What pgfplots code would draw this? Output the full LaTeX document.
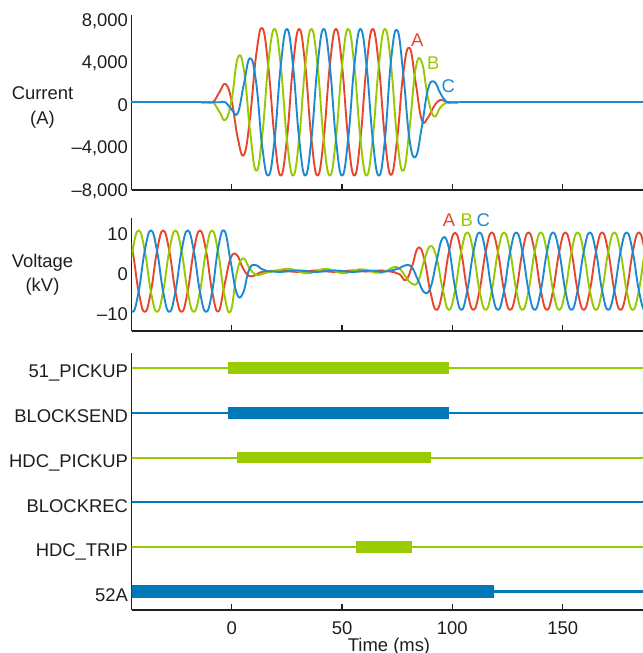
\documentclass[border=0pt]{standalone}
\usepackage{fontspec}
\setmainfont{Liberation Sans}
\usepackage{pgfplots}
\usepackage{pgfplotstable}
\pgfplotsset{compat=1.18}
\definecolor{cA}{RGB}{232,70,44}
\definecolor{cB}{RGB}{150,202,0}
\definecolor{cC}{RGB}{28,138,208}
\definecolor{dG}{RGB}{153,204,0}
\definecolor{dB}{RGB}{0,120,186}
\definecolor{ax}{RGB}{30,30,30}
\newcommand\lf{\fontsize{18.5}{22}\selectfont}

\pgfplotstableread{
t A B C
-13.88 0 0 0
-11.10 0 0 0
-8.32 50 -50 0
-5.54 950 -900 0
-2.77 1720 -1650 0
0.01 100 300 -700
2.79 -3400 4200 -1000
5.57 -4950 3000 1780
8.34 -1400 -2750 4150
11.12 4500 -6450 1800
13.90 6980 -3000 -4300
16.68 3200 3800 -6900
19.46 -3450 6900 -3450
22.23 -6900 3450 3450
25.01 -3450 -3450 6900
27.79 3450 -6900 3450
30.57 6900 -3450 -3450
33.34 3450 3450 -6900
36.12 -3450 6900 -3450
38.90 -6900 3450 3450
41.68 -3450 -3450 6900
44.46 3450 -6900 3450
47.23 6900 -3450 -3450
50.01 3450 3450 -6900
52.79 -3450 6900 -3450
55.57 -6900 3450 3450
58.34 -3450 -3450 6900
61.12 3450 -6900 3450
63.90 6900 -3450 -3450
66.68 3450 3450 -6900
69.46 -3450 6900 -3450
72.23 -6840 3460 4000
75.01 -3400 -3500 6800
77.79 2800 -6430 2600
80.57 5130 -2500 -3480
83.34 1900 3150 -5130
86.12 -1650 3800 -2380
88.90 -1450 450 1180
91.68 -375 -1340 1950
94.46 215 -500 900
97.23 50 -50 50
100.01 0 0 0
102.79 0 0 0
}\curtab

\pgfplotstableread{
t A B C
-47.73 10.2 -5.1 -5.1
-44.96 5.1 5.1 -10.2
-42.18 -5.1 10.2 -5.1
-39.40 -10.2 5.1 5.1
-36.62 -5.1 -5.1 10.2
-33.84 5.1 -10.2 5.1
-31.07 10.2 -5.1 -5.1
-28.29 5.1 5.1 -10.2
-25.51 -5.1 10.2 -5.1
-22.73 -10.2 5.1 5.1
-19.96 -5.1 -5.1 10.2
-17.18 5.1 -10.2 5.1
-14.40 10.2 -5.1 -5.1
-11.62 5.1 5.1 -10.2
-8.84 -5.1 10.2 -5.1
-6.07 -10.1 4.5 6.0
-3.29 -3.5 -6.0 10.1
-0.51 3.2 -10.1 2.5
2.27 4.1 -0.5 -5.5
5.04 0.8 3.2 -5.6
7.82 -1.2 1.0 0.3
10.60 -1.0 -0.8 1.6
13.38 -0.2 -0.8 0.6
16.16 0 -0.3 0
18.93 0.1 0.0 -0.1
21.71 0.2 0.3 -0.2
24.49 0.1 0.6 -0.1
27.27 -0.1 0.5 0.1
30.04 -0.2 0 0.2
32.82 -0.1 -0.5 0.1
35.60 0.1 -0.5 -0.1
38.38 0.2 0 -0.2
41.16 0.1 0.5 -0.1
43.93 -0.1 0.5 0.1
46.71 -0.2 0 0.2
49.49 -0.1 -0.5 0.1
52.27 0.1 -0.4 -0.1
55.04 0.2 0.1 -0.2
57.82 0.1 0.5 -0.1
60.60 -0.1 0.4 0.1
65.09 0.1 -0.4 0.1
67.87 0.2 -0.4 -0.2
70.64 0 0.2 0
73.42 -0.2 1.0 0.3
76.20 -0.8 0.6 0.8
78.98 -2.2 -1.5 1.5
81.76 1.3 -3.2 0.9
84.53 5.9 -2.5 -2.35
87.31 3.0 2.8 -5.3
90.09 -5.3 6.3 -4.1
92.87 -9.7 3.3 2.6
95.64 -4.8 -4.6 8.3
98.42 4.8 -9.7 5.8
101.20 9.6 -4.85 -4.0
103.98 4.85 4.85 -9.7
106.76 -4.85 9.7 -4.85
109.53 -9.7 4.85 4.85
112.31 -4.85 -4.85 9.7
115.09 4.85 -9.7 4.85
117.87 9.7 -4.85 -4.85
120.64 4.85 4.85 -9.7
123.42 -4.85 9.7 -4.85
126.20 -9.7 4.85 4.85
128.98 -4.85 -4.85 9.7
131.76 4.85 -9.7 4.85
134.53 9.7 -4.85 -4.85
137.31 4.85 4.85 -9.7
140.09 -4.85 9.7 -4.85
142.87 -9.7 4.85 4.85
145.64 -4.85 -4.85 9.7
148.42 4.85 -9.7 4.85
151.20 9.7 -4.85 -4.85
153.98 4.85 4.85 -9.7
156.76 -4.85 9.7 -4.85
159.53 -9.7 4.85 4.85
162.31 -4.85 -4.85 9.7
165.09 4.85 -9.7 4.85
167.87 9.7 -4.85 -4.85
170.64 4.85 4.85 -9.7
173.42 -4.85 9.7 -4.85
176.20 -9.7 4.85 4.85
178.98 -4.85 -4.85 9.7
181.76 4.85 -9.7 4.85
184.53 9.7 -4.85 -4.85
187.31 4.85 4.85 -9.7
190.09 -4.85 9.7 -4.85
}\voltab

\pgfplotsset{
  panel/.style={
    scale only axis, width=511.5bp, xmin=-45.41, xmax=186.4,
    clip mode=individual,
    axis x line*=bottom, axis y line*=left,
    axis line style={line width=1.4bp, ax},
    tick align=inside, major tick length=6bp,
    every tick/.style={line width=1.4bp, ax},
    ytick style={draw=none},
    xtick={0,50,100,150},
    tick label style={font=\lf, text=ax},
    /pgf/number format/assume math mode=true,
  },
  wave/.style={line width=1.9bp, smooth, tension=0.75, line join=round},
}

\begin{document}
\begin{tikzpicture}
\path[use as bounding box] (0bp,0bp) rectangle (643bp,653bp);

% ---------- Current ----------
\begin{axis}[panel, at={(131.5bp,463bp)}, anchor=south west, height=175bp,
  ymin=-8254, ymax=8217,
  ytick={-8000,-4000,0,4000,8000},
  yticklabels={{–8,000},{–4,000},{0},{4,000},{8,000}},
  yticklabel style={anchor=base east, yshift=-8.9bp},
  xticklabels={,,,}]
\addplot[wave, cA] table[x=t,y=A] {\curtab};
\addplot[cA, line width=1.9bp] coordinates {(-47,0) (-13.88,0)};
\addplot[cA, line width=1.9bp] coordinates {(102.79,0) (188,0)};
\addplot[wave, cB] table[x=t,y=B] {\curtab};
\addplot[cB, line width=1.9bp] coordinates {(-47,0) (-13.88,0)};
\addplot[cB, line width=1.9bp] coordinates {(102.79,0) (188,0)};
\addplot[wave, cC] table[x=t,y=C] {\curtab};
\addplot[cC, line width=1.9bp] coordinates {(-47,0) (-13.88,0)};
\addplot[cC, line width=1.9bp] coordinates {(102.79,0) (188,0)};
\node[text=cA, font=\lf] at (axis cs:84.1,5864) {A};
\node[text=cB, font=\lf] at (axis cs:91.4,3727) {B};
\node[text=cC, font=\lf] at (axis cs:98.2,1562) {C};
\end{axis}

% ---------- Voltage ----------
\begin{axis}[panel, at={(131.5bp,322bp)}, anchor=south west, height=113bp,
  ymin=-14.95, ymax=13.3,
  ytick={-10,0,10},
  yticklabels={{–10},{0},{10}},
  yticklabel style={anchor=base east, yshift=-9.2bp},
  xticklabels={,,,}]
\addplot[wave, cA] table[x=t,y=A] {\voltab};
\addplot[wave, cB] table[x=t,y=B] {\voltab};
\addplot[wave, cC] table[x=t,y=C] {\voltab};
\node[text=cA, font=\lf] at (axis cs:98.5,12.8) {A};
\node[text=cB, font=\lf] at (axis cs:106.5,12.8) {B};
\node[text=cC, font=\lf] at (axis cs:114.0,12.8) {C};
\end{axis}

% ---------- Digital ----------
\begin{axis}[panel, at={(131.5bp,43bp)}, anchor=south west, height=257bp,
  ymin=-0.41, ymax=5.34,
  ytick={0,1,2,3,4,5},
  yticklabels={52A,HDC\_TRIP,BLOCKREC,HDC\_PICKUP,BLOCKSEND,51\_PICKUP},
  yticklabel style={anchor=base east, yshift=-9.8bp},
  xticklabels={0,50,100,150},
  xticklabel style={anchor=base, yshift=-24.1bp}]
\addplot[dG, line width=2bp] coordinates {(-47,5) (188,5)};
\addplot[dG, line width=11.7bp] coordinates {(-1.54,5) (98.6,5)};
\addplot[dB, line width=2bp] coordinates {(-47,4) (188,4)};
\addplot[dB, line width=11.7bp] coordinates {(-1.54,4) (98.6,4)};
\addplot[dG, line width=2bp] coordinates {(-47,3) (188,3)};
\addplot[dG, line width=11.7bp] coordinates {(2.54,3) (90.2,3)};
\addplot[dB, line width=2bp] coordinates {(-47,2) (188,2)};
\addplot[dG, line width=2bp] coordinates {(-47,1) (188,1)};
\addplot[dG, line width=11.7bp] coordinates {(56.3,1) (81.8,1)};
\addplot[dB, line width=2.4bp] coordinates {(-47,0) (188,0)};
\addplot[dB, line width=12.5bp] coordinates {(-47,0) (119.0,0)};
\end{axis}

% ---------- Labels ----------
\node[anchor=base, font=\lf, text=ax] at (42.5bp,553bp) {Current};
\node[anchor=base, font=\lf, text=ax] at (42.5bp,528bp) {(A)};
\node[anchor=base, font=\lf, text=ax] at (42.5bp,385bp) {Voltage};
\node[anchor=base, font=\lf, text=ax] at (42.5bp,361.5bp) {(kV)};
\node[anchor=base, font=\lf, text=ax] at (389bp,1.4bp) {Time (ms)};
\end{tikzpicture}
\end{document}
